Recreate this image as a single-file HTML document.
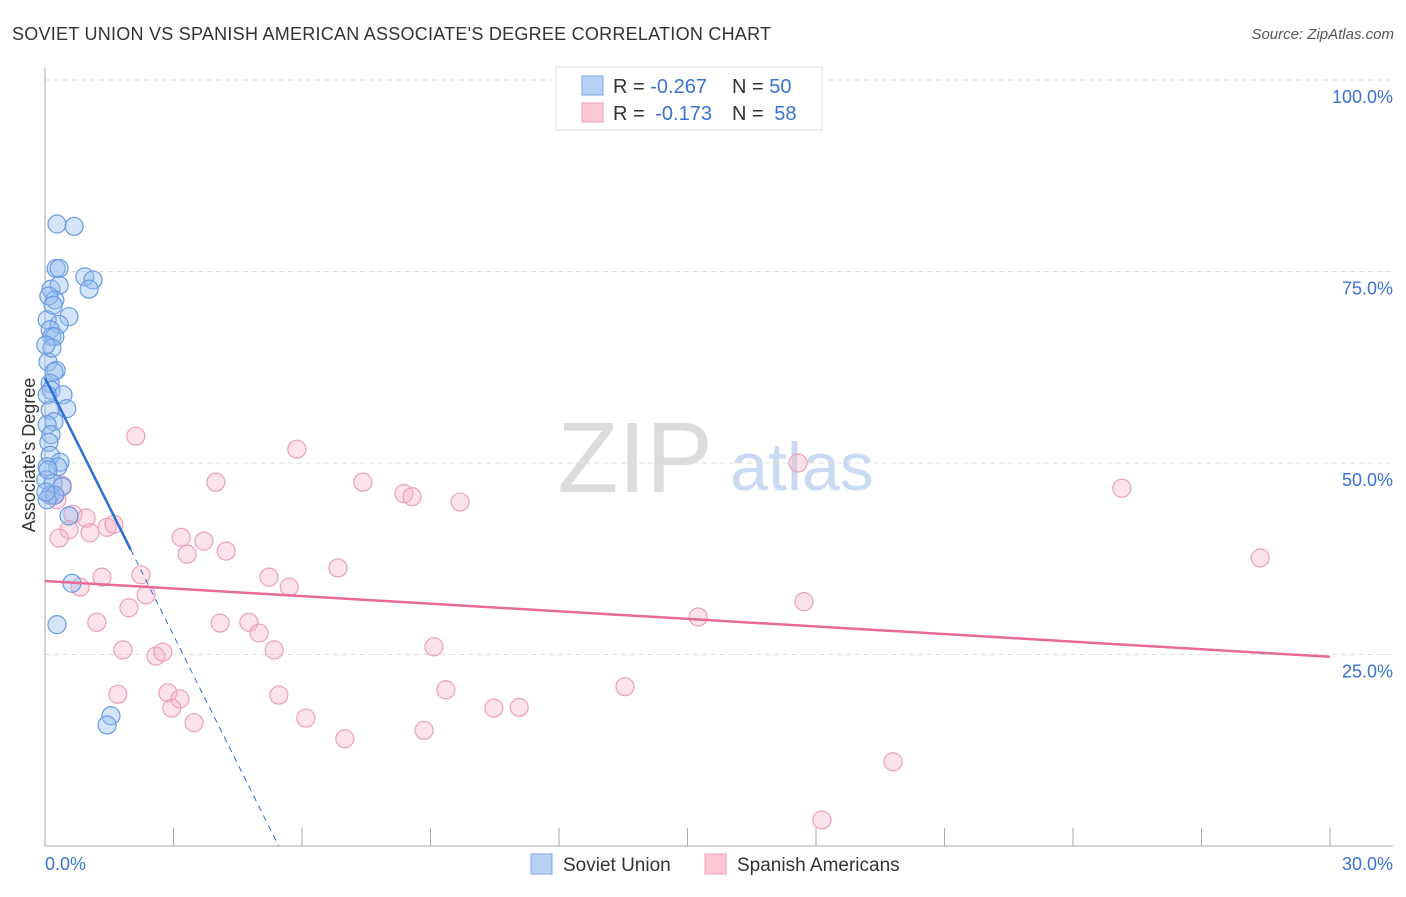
<!DOCTYPE html>
<html><head><meta charset="utf-8"><style>
body{margin:0;background:#fff;font-family:"Liberation Sans",sans-serif}
svg text{font-family:"Liberation Sans",sans-serif}
</style></head><body>
<svg id="chart" width="1406" height="892" xmlns="http://www.w3.org/2000/svg">
<text x="12" y="40" font-size="18" fill="#333" textLength="759">SOVIET UNION VS SPANISH AMERICAN ASSOCIATE'S DEGREE CORRELATION CHART</text>
<text x="1394" y="39" font-size="15" fill="#555" font-style="italic" text-anchor="end">Source: ZipAtlas.com</text>
<g>
<text x="635" y="492" font-size="100" font-family="Liberation Serif" fill="#dcdcdc" text-anchor="middle">ZIP</text>
<text x="802" y="490" font-size="68" fill="#c9daf2" text-anchor="middle">atlas</text>
</g>
<g id="grid"></g>
<g id="axes"></g>
<g id="marks"></g>
<text x="35" y="455" font-size="18" fill="#333" text-anchor="middle" transform="rotate(-90 35 455)">Associate's Degree</text>
<g>
<rect x="556" y="67" width="266" height="63" fill="#fff" stroke="#ddd"/>
<rect x="582" y="76" width="21" height="19" fill="#b8d2f5" stroke="#7aa5e6"/>
<rect x="582" y="103" width="21" height="19" fill="#fcc8d6" stroke="#f0a0b8"/>
<text x="613" y="93" font-size="20" fill="#333">R = <tspan fill="#3a73d0">-0.267</tspan></text>
<text x="732" y="93" font-size="20" fill="#333">N = <tspan fill="#3a73d0">50</tspan></text>
<text x="613" y="120" font-size="20" fill="#333">R = <tspan fill="#3a73d0" dx="5">-0.173</tspan></text>
<text x="732" y="120" font-size="20" fill="#333">N = <tspan fill="#3a73d0" dx="5">58</tspan></text>
</g>
<g>
<rect x="531" y="854" width="21" height="20" fill="#b8d2f5" stroke="#7aa5e6"/>
<text x="563" y="871" font-size="19" fill="#333">Soviet Union</text>
<rect x="705" y="854" width="21" height="20" fill="#fcc8d6" stroke="#f0a0b8"/>
<text x="737" y="871" font-size="19" fill="#333">Spanish Americans</text>
</g>
</svg>
<script>
const blueX=[0.28,0.68,0.26,0.33,0.93,1.12,1.03,0.14,0.33,0.23,0.09,0.56,0.05,0.33,0.12,0.16,0.23,0.07,0.26,0.21,0.12,0.14,0.42,0.05,0.51,0.12,0.21,0.05,0.14,0.09,0.12,0.35,0.30,0.05,0.02,0.19,0.40,0.12,0.23,0.05,0.56,0.63,0.28,1.54,1.45,0.02,0.07,0.16,0.02,0.19];
const blueY=[81.2,80.9,75.4,75.4,74.3,73.9,72.7,72.7,73.2,71.3,71.8,69.1,68.7,68.1,67.4,66.5,66.5,63.2,62.1,61.9,60.4,59.5,58.9,58.9,57.1,56.9,55.4,55.0,53.7,52.7,51.0,50.1,49.5,49.5,47.8,47.4,46.9,45.8,45.8,45.2,43.1,34.3,28.9,17.0,15.8,46.2,49.1,65.0,65.4,70.6];
const pinkX=[2.12,5.88,17.58,3.99,7.42,8.38,8.57,9.69,25.14,0.28,0.40,0.19,0.65,0.96,0.56,0.33,1.45,1.61,1.05,3.18,3.71,4.23,3.32,28.37,1.33,2.24,5.23,5.70,6.84,0.82,2.36,1.96,17.72,15.25,1.21,4.09,4.76,5.00,1.82,2.59,2.75,5.35,9.08,1.70,2.87,3.15,2.96,5.46,9.36,13.54,10.48,11.07,3.48,6.09,8.85,7.00,19.80,18.14];
const pinkY=[53.5,51.8,50.0,47.5,47.5,46.0,45.6,44.9,46.7,45.2,47.1,45.8,43.3,42.8,41.3,40.2,41.6,42.0,40.9,40.3,39.8,38.5,38.1,37.6,35.1,35.4,35.1,33.8,36.3,33.8,32.8,31.1,31.9,29.9,29.2,29.1,29.2,27.8,25.6,24.8,25.3,25.6,26.0,19.8,20.0,19.2,18.0,19.7,20.4,20.8,18.0,18.1,16.1,16.7,15.1,14.0,11.0,3.4];
const blueTrend=[61.1,-11.2]; // intercept, slope
const pinkTrend=[34.6,-0.33];
const yTicks=[25,50,75,100];
const yTickLabels=["25.0%","50.0%","75.0%","100.0%"];
const xTicks=[0,3,6,9,12,15,18,21,24,27,30];
const NS="http://www.w3.org/2000/svg";
const X=v=>45+v/30*1285, Y=v=>846-v/100*766;
function mk(tag,attrs,parent){const e=document.createElementNS(NS,tag);for(const k in attrs)e.setAttribute(k,attrs[k]);document.getElementById(parent).appendChild(e);return e;}
yTicks.forEach((t,i)=>{
 const g=mk('line',{x1:45,x2:1393,y1:Y(t),y2:Y(t),stroke:'#ddd','stroke-dasharray':'5,4'},'grid');
 
 
 const l=mk('text',{x:1393,y:Y(t)+23,'font-size':18,fill:'#3a73d0','text-anchor':'end'},'axes');
 l.textContent=yTickLabels[i];
 
 
});
let a=mk('line',{x1:45,x2:45,y1:68,y2:846,stroke:'#aaa'},'axes');


a=mk('line',{x1:45,x2:1393,y1:846,y2:846,stroke:'#aaa'},'axes');


xTicks.forEach(t=>{
 const k=mk('line',{x1:X(t),x2:X(t),y1:828,y2:846,stroke:'#aaa'},'axes');
 
 
});
let xl=mk('text',{x:45,y:870,'font-size':18,fill:'#3a73d0'},'axes');xl.textContent='0.0%';


xl=mk('text',{x:1393,y:870,'font-size':18,fill:'#3a73d0','text-anchor':'end'},'axes');xl.textContent='30.0%';


pinkX.forEach((v,i)=>{
 const c=mk('circle',{cx:X(v),cy:Y(pinkY[i]),r:9,fill:'rgba(246,176,196,0.35)',stroke:'#eca0b8','stroke-width':1.2},'marks');
 
 
});
blueX.forEach((v,i)=>{
 const c=mk('circle',{cx:X(v),cy:Y(blueY[i]),r:9,fill:'rgba(150,190,240,0.4)',stroke:'#6a9be0','stroke-width':1.2},'marks');
 
 
});
const bx1=Math.max(...blueX)*1.3, bx2=-blueTrend[0]/blueTrend[1];
let t=mk('line',{x1:X(0),y1:Y(blueTrend[0]),x2:X(bx1),y2:Y(blueTrend[0]+blueTrend[1]*bx1),stroke:'#2a6fd6','stroke-width':2.5},'marks');


t=mk('line',{x1:X(bx1),y1:Y(blueTrend[0]+blueTrend[1]*bx1),x2:X(bx2),y2:Y(0),stroke:'#2a6fd6','stroke-width':1,'stroke-dasharray':'6,5'},'marks');


t=mk('line',{x1:X(0),y1:Y(pinkTrend[0]),x2:X(30),y2:Y(pinkTrend[0]+pinkTrend[1]*30),stroke:'#e86b94','stroke-width':2.5},'marks');


</script>
</body></html>
